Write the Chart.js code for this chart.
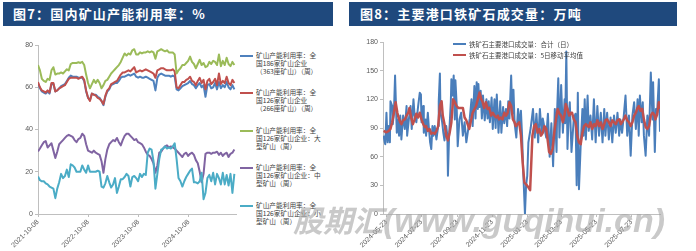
<!DOCTYPE html>
<html>
<head>
<meta charset="utf-8">
<script src="https://cdn.jsdelivr.net/npm/chart.js@4/dist/chart.umd.min.js"></script>
<style>
  body { margin:0; width:696px; height:251px; background:#fff; position:relative; overflow:hidden;
         font-family:"Liberation Sans","Noto Sans CJK SC",sans-serif; }
  .bar { position:absolute; top:2px; height:24px; background:#1f497d; color:#fff;
         font:bold 13px "Noto Sans CJK SC",sans-serif; letter-spacing:1.2px; line-height:24px; }
  canvas { position:absolute; top:30px; }
  .lg { position:absolute; left:240px; font-family:"Noto Sans CJK SC",sans-serif; font-size:6.7px; line-height:7.8px; color:#404040; }
  .lg i { position:absolute; left:0; top:3px; width:13px; height:2px; }
  .lg span { position:absolute; left:16px; top:0; white-space:nowrap; }
  .lg2 { position:absolute; left:453px; font-family:"Noto Sans CJK SC",sans-serif; font-size:6.5px; line-height:8px; color:#404040; white-space:nowrap; }
  .lg2 i { position:absolute; left:0; top:3px; width:13px; height:2px; }
  .lg2 span { position:absolute; left:16px; top:0; }
  .wm { position:absolute; left:293px; top:203px; color:rgba(165,165,165,0.6); font-weight:bold; font-style:italic;
        white-space:nowrap; line-height:35px; font-family:"Liberation Sans","Noto Sans CJK SC",sans-serif; }
</style>
</head>
<body>
<div class="bar" style="left:3px;width:330px;"><span style="padding-left:10px">图7：国内矿山产能利用率：%</span></div>
<div class="bar" style="left:349px;width:328px;"><span style="padding-left:11px">图8：主要港口铁矿石成交量：万吨</span></div>

<canvas id="c1" width="240" height="221" style="left:0px"></canvas>
<canvas id="c2" width="348" height="221" style="left:348px"></canvas>

<div class="lg" style="top:52px"><i style="background:#4F81BD"></i><span>矿山产能利用率：全<br>国186家矿山企业<br>（363座矿山）（周）</span></div>
<div class="lg" style="top:89px"><i style="background:#C0504D"></i><span>矿山产能利用率：全<br>国126家矿山企业<br>（266座矿山）（周）</span></div>
<div class="lg" style="top:127px"><i style="background:#9BBB59"></i><span>矿山产能利用率：全<br>国126家矿山企业：大<br>型矿山（周）</span></div>
<div class="lg" style="top:164px"><i style="background:#8064A2"></i><span>矿山产能利用率：全<br>国126家矿山企业：中<br>型矿山（周）</span></div>
<div class="lg" style="top:202px"><i style="background:#4BACC6"></i><span>矿山产能利用率：全<br>国126家矿山企业：小<br>型矿山（周）</span></div>

<div class="lg2" style="top:40px"><i style="background:#4A7EBB"></i><span>铁矿石主要港口成交量：合计（日）</span></div>
<div class="lg2" style="top:51px"><i style="background:#C0504D"></i><span>铁矿石主要港口成交量：5日移动平均值</span></div>

<div class="wm"><span style="font-size:30px">股期汇</span><span style="font-size:34px">(www.guqihui.cn)</span></div>

<script>
// 图7 weekly, one value every 2 weeks from 2021-10-08
const mineStep = 14;
const mineTickDays = [0, 365, 730, 1096];
const mineTickLabels = ['2021-10-08', '2022-10-08', '2023-10-08', '2024-10-08'];
const mineNames = ['矿山产能利用率：全国186家矿山企业（363座矿山）（周）', '矿山产能利用率：全国126家矿山企业（266座矿山）（周）',
  '矿山产能利用率：全国126家矿山企业：大型矿山（周）', '矿山产能利用率：全国126家矿山企业：中型矿山（周）', '矿山产能利用率：全国126家矿山企业：小型矿山（周）'];

const util363 = [62,59.5,58,57.5,57,58,57,61.5,61.5,58, 58.5,59.5,60.5,61,61.5,63,64.5,65.5,65,65,
  65,64.5,64.5,64.5,63,58,55,54,57,56.5, 56.5,55.5,55,53.5,51.5,55.5,58,59,61,61.5,
  62,62,63,64.5,65,65,65.5,66,65.5,66, 66.5,65,64.5,65,64.5,64.5,65,64.5,64,63.5,
  63,58.5,64.5,66,66.5,66,65.5,65.5,65.5,65, 65.5,65,59,58.5,59.5,60.5,61,61.5,62,63,
  61.5,61,59.5,61,62,60,61,55.5,61,61.5, 59.5,60,62,59,62.5,59.5,61,60,62.5,60, 59,61,59];
const util266 = [62.5,60,58.5,58,57.5,58.5,57.5,62,62,58, 58.5,59.5,60,60.5,61,62.5,64,64.5,64.5,64.5,
  64.5,64,64.5,65,63.5,58.5,55,53.5,57,56.5, 56,55,54.5,53.5,52,56,58.5,59.5,61.5,62,
  62.5,63,64.5,66,67,67,67.5,68,67.5,68.5, 69.5,67,67.5,68,67.5,68,68.5,68,67.5,67,
  66.5,64.5,68,68.5,69,69,68.5,68,68,68, 68.5,67.5,60,59.5,61,62.5,62.5,63.5,64,65,
  63,62.5,61,63,64.5,62,63.5,59,63,64, 61.5,62.5,64,61,66.5,61.5,63,62,65,62, 61,63.5,62];
const utilLarge = [70.5,68,64,63,62.5,64,63.5,68,69.5,66, 66.5,66.5,67,66.5,67.5,68.5,68,71,71.5,71.5,
  71.5,71.8,71.5,72,70.5,66,62,59.5,61.5,63.5, 62,63.5,62,59.5,61,63,63.5,65,66.5,67.5,
  68.5,69.5,70.5,72,74,76,75,76,75.5,77.5, 78,75.5,75.5,76.5,76,76.5,76.5,77,76.5,77,
  76.5,73.5,77,77.5,78,77.5,77,77.5,76.5,76.5, 76.5,75.5,66.5,68,69,70.5,70.5,71.5,72.5,74.5,
  72,71,69,71,73,70.5,71.5,69.5,70,72, 71,72.5,72,70.5,75.5,70,72.5,70.5,74,71, 70,72,70.5];
const utilMedium = [29.6,31,32.5,34,34.5,31.5,32.5,33.5,30,26.5, 29.5,33,34,35,36,37,37.5,37,36.5,35,
  34,35.5,36,38,37,33,30,29.5,29,30, 29,28.5,28,25,19.5,26,30.5,33,34,35,
  34.5,36,34,32.5,35,37,38,38,37,36, 35,35.5,34,33.5,33,31.5,29.5,28,27.5,26,
  24,19.5,23,29,29.5,31,32,32.5,31.5,32, 31.5,31,30,29,28,27,28.5,29,27.5,28.5,
  29,28,25.5,24,20,15,19,28.5,29,29, 28.5,29,29,29.5,28,29,27.5,28.5,29,27, 28.5,29,30.5];
const utilSmall = [17.8,16,15.5,15.5,14.5,14,13,12.5,12,7.5, 12,15,19,17,18,21,17.5,23.5,23,22,
  20,20,20,23,21,19.5,23,20,20,20, 20,20.5,20,13,12.5,14.5,18,15,12.5,14,
  17,10,13,16.5,16.5,17.5,19,18,13,17.5, 18,17,15.5,19,17.5,19,18.5,29,31,30.5,
  25,12,19,26,30.5,31,32,31,31.5,31, 32,33.5,26,17,15.5,13,15.5,17.5,19,20.5,
  21.5,15,15,14.5,15.5,19.5,7,10,17,18.5, 15.5,19.5,14,19,17,14,19.5,14,18.5,13.5, 19,10,19];

// 图8 daily port trades, days counted from 2024-05-23
const portTickDays = [0, 61, 123, 184, 245, 304, 365, 426];
const portTickLabels = ['2024-05-23', '2024-07-23', '2024-09-23', '2024-11-23', '2025-01-23', '2025-03-23', '2025-05-23', '2025-07-23'];
const dailyDays = [-5,-3,-2,0,2,4,6,7,10,11,13,15,18,20,22,24,26,29,32,35,36,39,42,44,47,49,52,55,58,60,61,64,65,68,69,72,74,76,78,80,
  82,84,87,90,91,93,94,97,99,101,104,106,107,109,112,113,115,117,119,120,122,124,127,130,133,136,139,
  145,148,150,153,155,157,159,160,162,164,166,168,171,174,176,178,180,183,185,188,190,192,195,198,200,203,205,208,210,212,214,
  217,219,221,223,226,229,232,234,236,238,241,243,245,247,251,255,258,261,264,267,270,272,275,278,281,284,287,290,293,296,297,299,
  301,304,307,310,311,313,315,317,319,322,326,329,331,333,335,338,341,343,345,347,350,352,355,358,361,364,367,370,373,376,379,381,
  384,387,390,393,396,399,402,405,407,410,413,416,419,422,425,428,431,434,437,439,441,444,446,448,451,454,457,460,463,464,467,469,471,474,476];
const dailyTotal = [82,75,73,106,75,92,75,118,113,94,106,145,85,99,82,103,78,103,89,113,82,99,113,89,120,103,96,112,127,125,96,113,85,99,82,106,89,75,68,92,
  82,92,78,92,118,147,106,96,85,77,92,82,40,82,117,141,124,145,99,140,117,71,99,106,82,96,75,
  100,120,92,134,100,138,110,136,112,129,100,124,98,120,100,118,96,122,89,120,90,125,85,118,85,112,95,110,92,118,100,
  145,105,130,95,80,110,92,108,82,45,0,30,40,75,90,110,80,105,75,110,85,100,90,80,105,60,95,50,110,65,108,142,
  80,135,85,120,95,170,68,103,117,65,100,105,30,127,26,72,110,82,120,78,124,87,103,78,120,75,113,82,106,75,110,82,
  106,78,101,75,103,85,106,82,99,85,103,124,82,103,61,103,117,89,120,82,124,96,117,82,61,103,82,148,99,138,65,110,106,141,86];
const avgDays = [-5,0,4,7,10,13,16,19,21,24,26,29,32,35,38,40,43,46,49,52,55,58,61,64,67,69,72,75,78,81,84,87,90,93,96,98,
  101,104,107,110,113,116,119,122,125,127,130,133,136,139,144,150,156,162,165,167,170,173,176,179,182,185,188,191,194,196,199,
  202,205,208,211,214,217,220,223,225,228,231,234,237,240,243,247,250,254,257,260,263,266,269,272,275,278,281,283,286,289,292,295,298,
  301,304,307,310,312,315,318,321,323,326,329,332,335,338,341,344,347,350,352,355,358,361,364,367,370,373,376,379,381,
  384,387,390,393,396,399,402,405,408,410,413,416,419,422,425,428,431,434,437,439,442,445,448,451,454,457,460,463,466,468,471,474,476];
const avg5 = [87,85.5,87,89,96,106,117,106,101,96,94,98,99,103,106,111,101,94,99,105,101,106,99,94,91,92,87,89,84,85,84,87,92,113,118,103,
  94,82,77,85,96,120,117,113,111,111,111,111,101,98,89,106,113,127,120,118,111,117,110,111,103,106,103,101,103,99,101,
  99,106,103,106,117,113,99,96,92,94,96,82,54,33,31,28,25,82,92,94,85,89,82,85,92,89,75,65,63,68,85,99,110,
  105,103,96,104,115,110,103,106,106,99,96,82,75,73,85,92,94,92,91,96,89,94,92,98,92,96,89,94,98,
  99,96,92,98,96,94,98,99,94,96,99,103,98,96,92,96,103,106,111,113,108,110,99,91,89,92,103,106,104,99,104,117,110];

const pts = (xs, ys) => ys.map((y, i) => ({ x: xs[i], y }));
const weekly = ys => pts(ys.map((_, i) => i * mineStep), ys);

const tickFont = { family: '"Liberation Sans", "Noto Sans CJK SC", sans-serif', size: 7 };
const axisGrey = '#bfbfbf';
const labelGrey = '#595959';

function xAxis(min, max, days, labels) {
  return {
    type: 'linear', min, max,
    afterBuildTicks: s => { s.ticks = days.map(v => ({ value: v })); },
    ticks: { autoSkip: false, minRotation: 45, maxRotation: 45, padding: 1, font: tickFont, color: labelGrey,
             callback: (v, i) => labels[i] },
    grid: { display: true, drawOnChartArea: false, tickLength: 3, color: axisGrey },
    border: { display: true, color: axisGrey },
    afterFit: s => { s.height = 37; s.paddingLeft = 0; s.paddingRight = 0; }
  };
}
function yAxis(max, step, width) {
  return {
    min: 0, max,
    ticks: { stepSize: step, padding: 2, font: tickFont, color: labelGrey },
    grid: { display: true, drawOnChartArea: false, tickLength: 3, color: axisGrey },
    border: { display: true, color: axisGrey },
    afterFit: s => { s.width = width; }
  };
}

const lineSet = (label, data, color, order, width) => ({
  label, data, borderColor: color, backgroundColor: color, borderWidth: width, order,
  pointRadius: 0, tension: 0, borderJoinStyle: 'round', fill: false
});

new Chart(document.getElementById('c1'), {
  type: 'line',
  data: {
    datasets: [
      lineSet(mineNames[0], weekly(util363), '#4F81BD', 5, 2),
      lineSet(mineNames[1], weekly(util266), '#C0504D', 4, 2),
      lineSet(mineNames[2], weekly(utilLarge), '#9BBB59', 3, 2),
      lineSet(mineNames[3], weekly(utilMedium), '#8064A2', 2, 2),
      lineSet(mineNames[4], weekly(utilSmall), '#4BACC6', 1, 2)
    ]
  },
  options: {
    responsive: false, animation: false,
    layout: { padding: { left: 0, top: 15, right: 4, bottom: 0 } },
    plugins: { legend: { display: false }, tooltip: { enabled: false } },
    scales: { x: xAxis(0, 1440, mineTickDays, mineTickLabels), y: yAxis(80, 20, 38) }
  }
});

new Chart(document.getElementById('c2'), {
  type: 'line',
  data: {
    datasets: [
      lineSet('铁矿石主要港口成交量：合计（日）', pts(dailyDays, dailyTotal), '#4A7EBB', 2, 2),
      lineSet('铁矿石主要港口成交量：5日移动平均值', pts(avgDays, avg5), '#C0504D', 1, 2.5)
    ]
  },
  options: {
    responsive: false, animation: false,
    layout: { padding: { left: 0, top: 12, right: 36, bottom: 0 } },
    plugins: { legend: { display: false }, tooltip: { enabled: false } },
    scales: { x: xAxis(-6, 476, portTickDays, portTickLabels), y: yAxis(180, 30, 35) }
  }
});
</script>
</body>
</html>
